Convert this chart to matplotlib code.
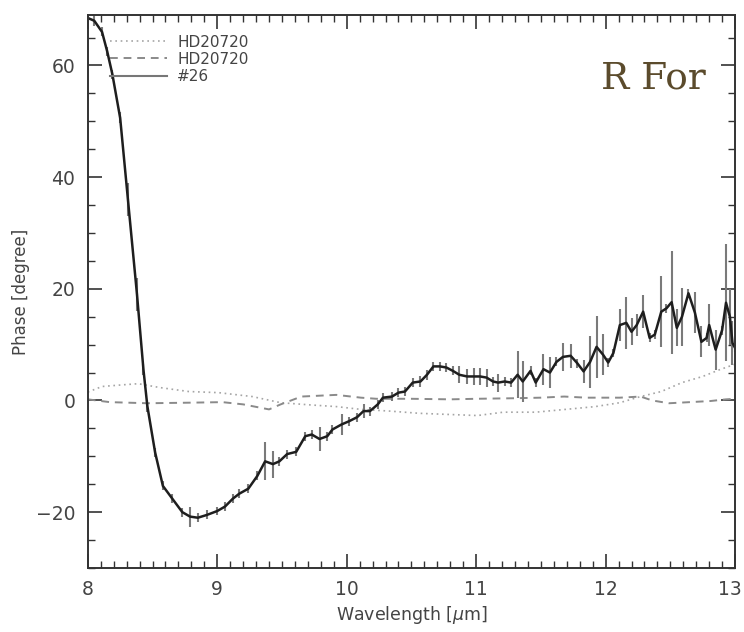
import matplotlib
matplotlib.use("Agg")
import matplotlib.pyplot as plt
from matplotlib.lines import Line2D
from matplotlib.ticker import MultipleLocator, FuncFormatter

# ---- data: object #26 phase ----
wl26 = [8.00, 8.05, 8.11, 8.15, 8.19, 8.25, 8.31, 8.38, 8.43, 8.46, 8.52, 8.58,
        8.65, 8.73, 8.79, 8.85, 8.92, 9.00, 9.06, 9.12, 9.17, 9.24, 9.31, 9.37,
        9.43, 9.48, 9.54, 9.61, 9.68, 9.73, 9.79, 9.85, 9.89, 9.96, 10.02, 10.08,
        10.13, 10.18, 10.24, 10.28, 10.35, 10.40, 10.45, 10.51, 10.57, 10.62,
        10.67, 10.72, 10.77, 10.82, 10.87, 10.93, 10.98, 11.03, 11.08, 11.13,
        11.17, 11.22, 11.27, 11.32, 11.36, 11.42, 11.46, 11.52, 11.57, 11.62,
        11.67, 11.73, 11.78, 11.83, 11.88, 11.93, 11.98, 12.02, 12.06, 12.11,
        12.16, 12.20, 12.24, 12.29, 12.34, 12.38, 12.43, 12.47, 12.51, 12.55,
        12.59, 12.64, 12.69, 12.74, 12.78, 12.80, 12.85, 12.90, 12.93, 12.96,
        12.98, 13.00]
ph26 = [68.5, 68.0, 66.0, 62.5, 58.4, 50.6, 36.0, 19.0, 5.5, -1.0, -9.3, -15.3,
        -17.5, -20.0, -20.8, -21.0, -20.5, -19.8, -19.0, -17.6, -16.7, -15.8, -13.5, -10.9,
        -11.4, -10.9, -9.6, -9.2, -6.4, -6.1, -6.9, -6.4, -5.2, -4.3, -3.7, -3.0,
        -1.9, -1.9, -0.7, 0.5, 0.7, 1.4, 1.6, 3.2, 3.4, 4.6,
        6.1, 6.1, 5.9, 5.3, 4.6, 4.3, 4.3, 4.3, 4.1, 3.4,
        3.2, 3.4, 3.2, 4.6, 3.4, 5.3, 3.2, 5.6, 5.0, 6.9,
        7.8, 8.0, 6.7, 5.2, 6.9, 9.6, 8.2, 6.8, 8.5, 13.5,
        13.9, 12.3, 13.5, 15.9, 11.2, 11.8, 15.9, 16.5, 17.6, 13.0,
        15.0, 19.2, 15.7, 10.5, 11.2, 13.5, 9.1, 12.6, 17.5, 15.0,
        10.3, 9.4]
err26 = [0.8, 1.0, 0.8, 0.8, 0.8, 1.0, 3.0, 3.0, 1.0, 1.0, 0.8, 0.8,
         0.8, 0.8, 1.8, 0.8, 0.8, 0.8, 0.8, 0.8, 0.8, 0.8, 0.8, 3.4,
         2.4, 0.8, 0.8, 0.8, 0.8, 0.8, 2.1, 0.8, 0.8, 1.9, 0.8, 0.8,
         1.3, 0.8, 0.8, 0.8, 0.8, 0.8, 0.8, 0.8, 0.9, 0.9,
         0.8, 0.8, 0.8, 0.8, 1.5, 1.3, 1.6, 1.5, 1.6, 0.8,
         1.6, 0.8, 0.8, 4.2, 3.7, 0.8, 0.8, 2.8, 2.8, 0.8,
         2.5, 2.2, 0.8, 2.1, 4.7, 5.5, 3.7, 0.8, 0.8, 2.8,
         4.6, 2.4, 1.9, 3.0, 0.8, 0.8, 6.4, 0.8, 9.2, 3.3,
         5.2, 0.8, 3.7, 2.8, 0.8, 3.7, 3.6, 0.8, 10.5, 5.0,
         4.0, 0.8]

# ---- data: calibrator HD20720 (dotted) ----
wl_dot = [8.00, 8.11, 8.27, 8.39, 8.56, 8.78, 9.01, 9.27, 9.49, 9.72, 9.92, 10.11,
          10.33, 10.56, 10.78, 11.01, 11.21, 11.46, 11.69, 11.92, 12.11, 12.27,
          12.43, 12.59, 12.75, 12.88, 13.00]
ph_dot = [1.5, 2.5, 2.8, 3.0, 2.3, 1.6, 1.4, 0.7, -0.4, -0.8, -1.1, -1.6,
          -1.9, -2.3, -2.5, -2.7, -2.1, -2.1, -1.6, -1.1, -0.4, 0.7,
          1.6, 3.2, 4.3, 5.5, 6.5]

# ---- data: calibrator HD20720 (dashed) ----
wl_dash = [8.00, 8.17, 8.46, 8.78, 9.04, 9.20, 9.40, 9.49, 9.65, 9.92, 10.11, 10.23,
           10.50, 10.80, 11.00, 11.30, 11.50, 11.68, 11.85, 12.11, 12.27, 12.36,
           12.49, 12.65, 12.81, 12.93, 13.00]
ph_dash = [0.2, -0.3, -0.5, -0.4, -0.3, -0.7, -1.6, -0.7, 0.7, 1.0, 0.5, 0.3,
           0.3, 0.2, 0.3, 0.4, 0.5, 0.7, 0.5, 0.5, 0.7, 0.0,
           -0.5, -0.3, -0.1, 0.2, 0.3]

labels = ["HD20720", "HD20720", "#26"]
title_text = "R For"
x_last_tick = 13

fig = plt.figure(figsize=(7.44, 6.32), dpi=100)
ax = fig.add_axes([0.118, 0.1013, 0.870, 0.8747])

ax.plot(wl_dot, ph_dot, linestyle=(0, (1, 2.2)), color="#a5a5a5", lw=1.2)
ax.plot(wl_dash, ph_dash, linestyle=(0, (4, 3)), color="#8a8a8a", lw=1.4)
ax.errorbar(wl26, ph26, yerr=err26, fmt="none", ecolor="#7a7a7a", elinewidth=1.5, capsize=0)
ax.plot(wl26, ph26, color="#1e1e1e", lw=1.8)

ax.set_xlim(8, 13)
ax.set_ylim(-30, 69)
ax.xaxis.set_major_locator(MultipleLocator(1))
ax.xaxis.set_minor_locator(MultipleLocator(0.1))
ax.yaxis.set_major_locator(MultipleLocator(20))
ax.yaxis.set_minor_locator(MultipleLocator(5))
ax.xaxis.set_major_formatter(FuncFormatter(
    lambda v, p: "" if abs(v - x_last_tick) < 1e-6 else f"{v:g}"))
ax.tick_params(which="both", direction="in", top=True, right=True, colors="#333333")
ax.tick_params(which="major", length=10, width=1.2, labelsize=13.5, labelcolor="#444444", pad=9)
ax.tick_params(which="minor", length=5, width=1.0)
for s in ax.spines.values():
    s.set_linewidth(1.4)
    s.set_color("#333333")

# last x tick label nudged left so it stays inside the figure
ax.annotate(f"{x_last_tick:g}", xy=(x_last_tick, 0), xycoords=("data", "axes fraction"),
            xytext=(-4, -9), textcoords="offset points", ha="center", va="top",
            fontsize=13.5, color="#444444")

ax.set_xlabel("Wavelength [$\\mu$m]", fontsize=12.5, color="#444444", labelpad=3)
ax.set_ylabel("Phase [degree]", fontsize=12, color="#444444", labelpad=4)

handles = [Line2D([], [], linestyle=(0, (1, 2.2)), color="#a5a5a5", lw=1.2),
           Line2D([], [], linestyle=(0, (4, 3)), color="#8a8a8a", lw=1.4),
           Line2D([], [], linestyle="-", color="#777777", lw=1.5)]
leg = ax.legend(handles, labels, loc="upper left", bbox_to_anchor=(0.018, 0.984),
                frameon=False, fontsize=11, handlelength=3.7, handletextpad=0.7,
                labelspacing=0.14, borderpad=0.2)
for t in leg.get_texts():
    t.set_color("#444444")

ax.text(0.955, 0.885, title_text, transform=ax.transAxes, ha="right", va="center",
        fontsize=27, family="DejaVu Serif", color="#5b4b2c")

fig.savefig("out.png", dpi=100)
